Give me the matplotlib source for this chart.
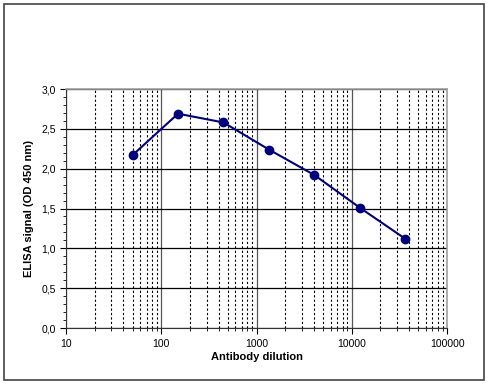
import numpy as np
import matplotlib.pyplot as plt
from matplotlib.ticker import FixedLocator, LogLocator, NullFormatter, FuncFormatter, MultipleLocator
from matplotlib.patches import Rectangle

plt.rcParams['font.family'] = ['Liberation Sans', 'DejaVu Sans']

dilution = [50, 150, 450, 1350, 4050, 12150, 36450]
signal = [2.17, 2.69, 2.58, 2.24, 1.92, 1.51, 1.12]
x_ticks = [10, 100, 1000, 10000, 100000]
y_ticks = [0.0, 0.5, 1.0, 1.5, 2.0, 2.5, 3.0]

fig = plt.figure(figsize=(4.9, 3.84), dpi=100)
fig.patches.append(Rectangle((0.008, 0.01), 0.98, 0.98, transform=fig.transFigure,
                             fill=False, edgecolor='#444444', linewidth=1.2))
ax = fig.add_axes([0.1347, 0.1458, 0.7776, 0.6224])

ax.set_xscale('log')
ax.set_xlim(10, 100000)
ax.set_ylim(0, 3.0)

ax.xaxis.set_major_locator(FixedLocator(x_ticks))
ax.xaxis.set_major_formatter(FuncFormatter(lambda v, p: f"{int(v)}"))
ax.xaxis.set_minor_locator(LogLocator(base=10, subs=np.arange(2, 10)))
ax.xaxis.set_minor_formatter(NullFormatter())
ax.yaxis.set_major_locator(FixedLocator(y_ticks))
ax.yaxis.set_major_formatter(FuncFormatter(lambda v, p: f"{v:.1f}".replace('.', ',')))
ax.yaxis.set_minor_locator(MultipleLocator(0.1))

ax.grid(which='major', axis='y', color='black', linewidth=0.9)
ax.grid(which='major', axis='x', color='#555555', linewidth=0.9)
ax.grid(which='minor', axis='x', color='black', linewidth=0.8, linestyle=(0, (2, 2)))

ax.spines['top'].set_color('#a0a0a0')
ax.spines['right'].set_color('#a0a0a0')
ax.spines['top'].set_linewidth(1.2)
ax.spines['right'].set_linewidth(1.2)
ax.spines['left'].set_color('#333333')
ax.spines['bottom'].set_color('#333333')

ax.tick_params(axis='both', which='major', labelsize=7.5, direction='out', length=4, width=0.8)
ax.tick_params(axis='both', which='minor', direction='out', length=2, width=0.6)
ax.tick_params(axis='x', which='major', pad=4)

ax.plot(dilution, signal, color='#000080', linewidth=1.5, marker='o', markersize=6)

ax.set_xlabel('Antibody dilution', fontsize=8, fontweight='bold', labelpad=2)
ax.set_ylabel('ELISA signal (OD 450 nm)', fontsize=8, fontweight='bold', labelpad=5)

fig.savefig('out.png', dpi=100)
